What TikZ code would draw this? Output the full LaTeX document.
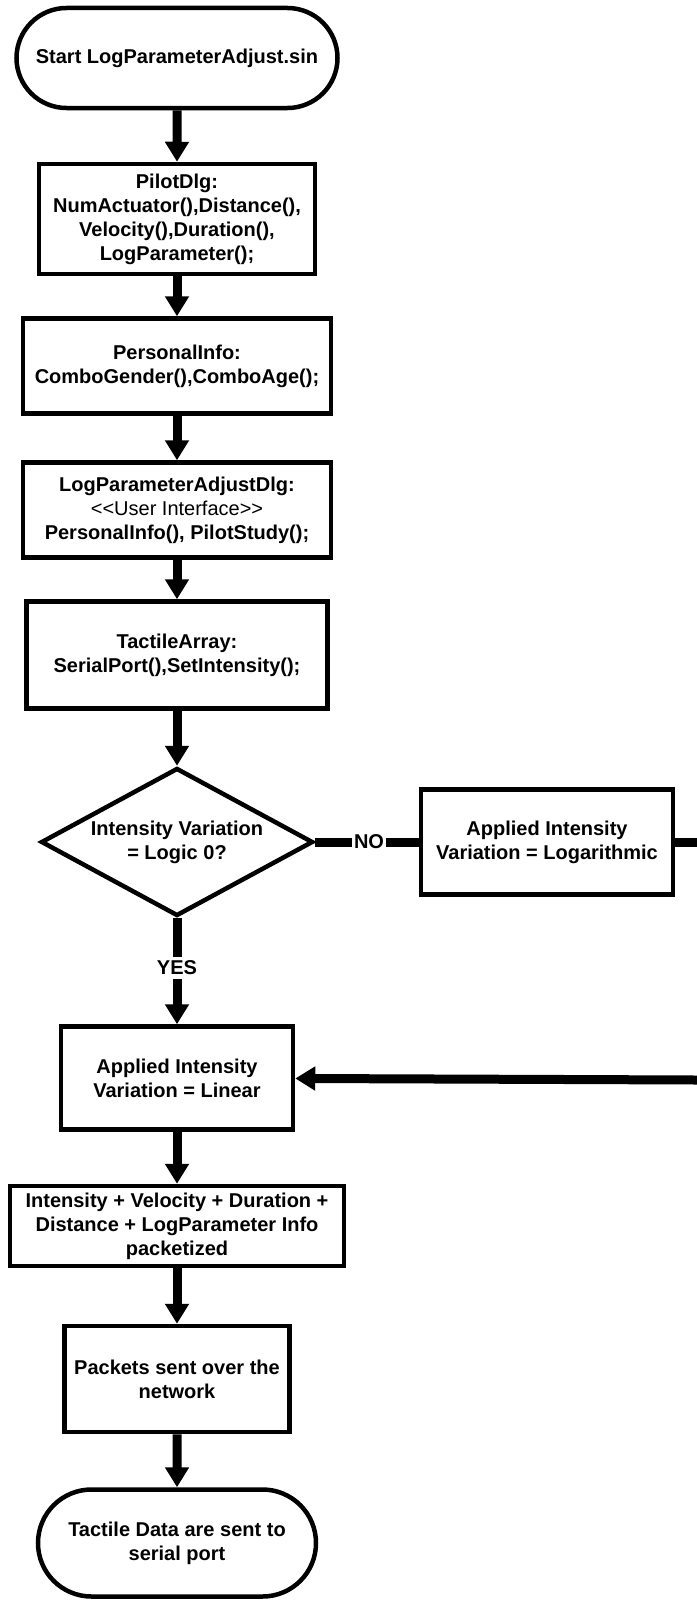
\documentclass[tikz,border=0pt]{standalone}
\usepackage{fontspec}
\setmainfont{Liberation Sans}
\usetikzlibrary{shapes.geometric,shapes.misc,arrows.meta}

\begin{document}
\begin{tikzpicture}[x=1bp,y=-1bp,
    font=\fontsize{20bp}{24bp}\selectfont\bfseries,
    every node/.style={align=center,inner sep=2bp},
    box/.style={draw,rectangle,line width=4.5bp},
    term/.style={draw,rounded rectangle,line width=4.5bp},
    test/.style={draw,diamond,aspect=1.84,inner sep=0bp,line width=4.5bp},
    link/.style={line width=9bp},
    flow/.style={link,-{Triangle[length=20bp,width=23bp]}}]
      \useasboundingbox (0,0) rectangle (697,1602);
      % main column
      \node[term,minimum width=325bp,minimum height=100bp] (start) at (177,58) {Start LogParameterAdjust.sin};
      \node[box,minimum width=276bp,minimum height=110bp] (pilot) at (177,219) {PilotDlg:\\NumActuator(),Distance(),\\Velocity(),Duration(),\\LogParameter();};
      \node[box,minimum width=308bp,minimum height=95bp] (personal) at (177,366) {PersonalInfo:\\ComboGender(),ComboAge();};
      \node[box,minimum width=308bp,minimum height=95bp] (adjust) at (177,510) {LogParameterAdjustDlg:\\{\mdseries <\kern0pt<User Interface>\kern0pt>}\\PersonalInfo(), PilotStudy();};
      \node[box,minimum width=301bp,minimum height=107bp] (tactile) at (177,655) {TactileArray:\\SerialPort(),SetIntensity();};
      \node[test,minimum width=272bp,minimum height=148bp] (logic) at (177,842) {Intensity Variation\\= Logic 0?};
      \node (no) at (369,842) {NO};
      \node[box,minimum width=252bp,minimum height=105bp] (logbox) at (547,842) {Applied Intensity\\Variation = Logarithmic};
      \coordinate (edgeA) at (697,842);
      \coordinate (edgeB) at (697,1080);
      \node[inner sep=4bp] (yes) at (177,968) {YES};
      \node[box,minimum width=232bp,minimum height=103bp] (linear) at (177,1078) {Applied Intensity\\Variation = Linear};
      \node[box,minimum width=334bp,minimum height=80bp] (packet) at (177,1226) {Intensity + Velocity + Duration +\\Distance + LogParameter Info\\packetized};
      \node[box,minimum width=225bp,minimum height=106bp] (network) at (177,1379) {Packets sent over the\\network};
      \node[term,minimum width=282bp,minimum height=107bp] (serial) at (177,1543) {Tactile Data are sent to\\serial port};
      % connectors
      \foreach \a/\b in {start/pilot,pilot/personal,personal/adjust,adjust/tactile,tactile/logic,yes/linear,linear/packet,packet/network,network/serial}
        \draw[flow] (\a) -- (\b);
      \draw[link] (logic) -- (yes);
      \draw[link] (logic) -- (no);
      \draw[link] (no) -- (logbox);
      \draw[link] (logbox) -- (edgeA);
      \draw[flow] (edgeB) -- (linear);
    \end{tikzpicture}
\end{document}
